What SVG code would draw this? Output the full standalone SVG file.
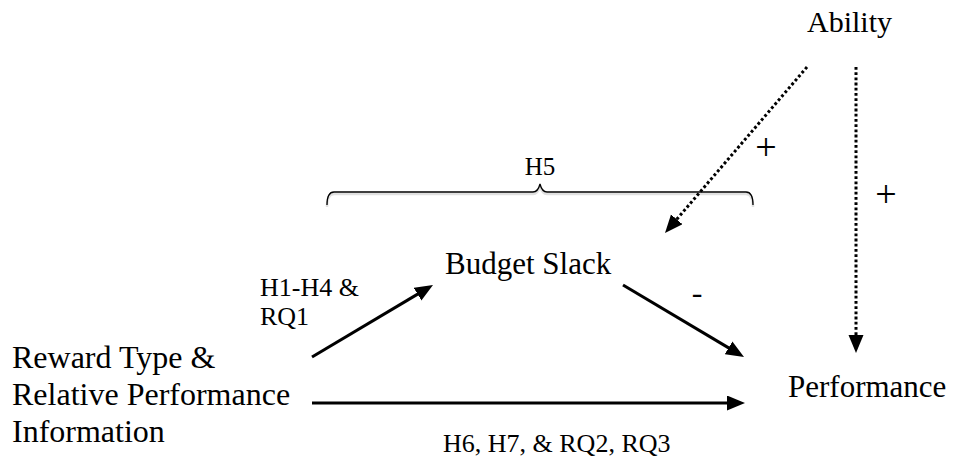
<svg xmlns="http://www.w3.org/2000/svg" width="955" height="460" viewBox="0 0 955 460">
  <defs>
    <marker id="ah" markerUnits="userSpaceOnUse" markerWidth="20" markerHeight="16" refX="6" refY="7.5" orient="auto">
      <path d="M0,0 L18,7.5 L0,15 z" fill="#000"/>
    </marker>
    <style>
      .t { font-family: "Liberation Serif", "Times New Roman", serif; fill: #000; }
      .big { font-size: 31px; }
      .rw { font-size: 32px; }
      .ab { font-size: 30px; }
      .small { font-size: 26px; }
      .h5 { font-size: 25px; }
      .sym { font-size: 32px; }
      .plus { font-size: 38px; font-weight: 300; }
      .solid { stroke: #000; stroke-width: 3; fill: none; marker-end: url(#ah); }
      .dotted { stroke: #000; stroke-width: 3; fill: none; stroke-dasharray: 2.8 2.4; marker-end: url(#ah); }
      .brace { stroke: #000; stroke-width: 1.3; fill: none; }
      .braceShadow { stroke: #000; stroke-opacity: 0.12; stroke-width: 2.5; fill: none; }
    </style>
  </defs>
  <rect width="955" height="460" fill="#fff"/>

  <g id="connectors">
    <line class="solid" x1="312" y1="357" x2="422.7" y2="291.1"/>
    <line class="solid" x1="623" y1="285" x2="733.7" y2="350.9"/>
    <line class="solid" x1="312" y1="403" x2="733" y2="403"/>
    <line class="dotted" x1="807" y1="67" x2="672.8" y2="223.9"/>
    <line class="dotted" x1="856" y1="67" x2="856" y2="341"/>
  </g>

  <g id="brace-h5">
    <path class="braceShadow" d="M327,207 Q327,194 334,194 L533,194 Q538,194 540,186 Q542,194 547,194 L746,194 Q753,194 753,207"/>
    <path class="brace" d="M327,205 Q327,192 334,192 L533,192 Q538,192 540,184 Q542,192 547,192 L746,192 Q753,192 753,205"/>
    <text class="t h5" x="540" y="175" text-anchor="middle">H5</text>
  </g>

  <g id="node-ability">
    <text class="t ab" x="807" y="32">Ability</text>
  </g>
  <g id="node-budget-slack">
    <text class="t big" x="445" y="274">Budget Slack</text>
  </g>
  <g id="node-performance">
    <text class="t big" x="788" y="397">Performance</text>
  </g>
  <g id="node-reward">
    <text class="t rw" x="12" y="368">Reward Type &amp;</text>
    <text class="t rw" x="12" y="405">Relative Performance</text>
    <text class="t rw" x="12" y="442">Information</text>
  </g>

  <g id="labels">
    <text class="t small" x="260" y="296">H1-H4 &amp;</text>
    <text class="t small" x="260" y="325">RQ1</text>
    <text class="t small" x="443" y="452">H6, H7, &amp; RQ2, RQ3</text>
    <text class="t plus" x="766" y="160" text-anchor="middle">+</text>
    <text class="t plus" x="886" y="207" text-anchor="middle">+</text>
    <text class="t sym" x="697" y="303" text-anchor="middle">-</text>
  </g>
</svg>
